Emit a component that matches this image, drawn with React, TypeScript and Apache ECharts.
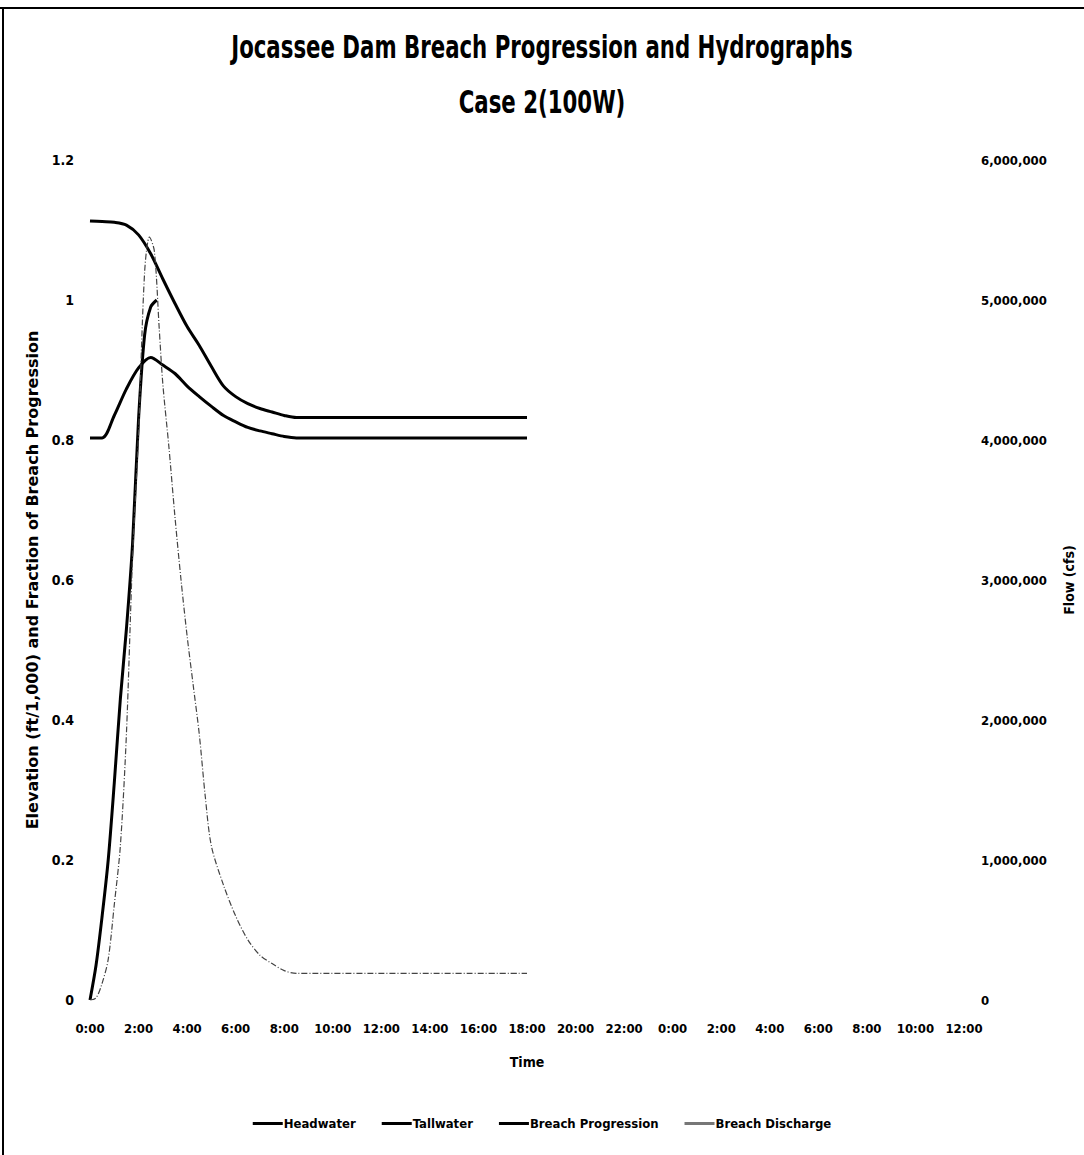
import React, { useEffect, useRef } from "react";
import * as echarts from "echarts";

const titleText = "Jocassee Dam Breach Progression and Hydrographs";
const subTitleText = "Case 2(100W)";
const seriesNames = ["Headwater", "Tallwater", "Breach Progression", "Breach Discharge"];

// time in hours since 0:00
const hwT = [0, 0.5, 1, 1.5, 2, 2.5, 3, 3.5, 4, 4.5, 5, 5.5, 6, 6.5, 7, 7.5, 8, 8.5, 18];
const hwV = [1.113, 1.112, 1.111, 1.107, 1.093, 1.066, 1.03, 0.995, 0.962, 0.935, 0.905, 0.877, 0.862, 0.852, 0.845, 0.84, 0.835, 0.832, 0.832];

const twT = [0, 0.5, 1, 1.5, 2, 2.5, 3, 3.5, 4, 4.5, 5, 5.5, 6, 6.5, 7, 7.5, 8, 8.5, 18];
const twV = [0.803, 0.803, 0.835, 0.873, 0.903, 0.918, 0.907, 0.895, 0.877, 0.862, 0.848, 0.835, 0.826, 0.818, 0.813, 0.809, 0.805, 0.803, 0.803];

const bpT = [0, 0.25, 0.5, 0.75, 1, 1.25, 1.5, 1.75, 2, 2.25, 2.5, 2.75];
const bpV = [0, 0.05, 0.12, 0.2, 0.31, 0.43, 0.53, 0.65, 0.83, 0.95, 0.99, 1.0];

const bdT = [0, 0.25, 0.5, 0.75, 1, 1.25, 1.5, 1.75, 2, 2.25, 2.45, 2.65, 2.85, 3, 3.25, 3.5, 3.75, 4, 4.25, 4.5, 4.75, 5, 5.5, 6, 6.5, 7, 7.5, 8, 8.5, 18];
const bdV = [0, 15000, 120000, 290000, 680000, 1100000, 1900000, 3150000, 4050000, 5200000, 5450000, 5350000, 4800000, 4400000, 3950000, 3450000, 3000000, 2600000, 2250000, 1900000, 1450000, 1100000, 820000, 600000, 430000, 320000, 260000, 210000, 190000, 190000];

const FONT = "'DejaVu Sans Condensed', 'Roboto', sans-serif";
const WIDE = "'DejaVu Sans', 'Verdana', sans-serif";

const pair = (t: number[], v: number[]) => t.map((x, i) => [x, v[i]]);

export default function App() {
  const ref = useRef<HTMLDivElement>(null);
  useEffect(() => {
    if (!ref.current) return;
    const chart = echarts.init(ref.current, undefined, { renderer: "svg" });
    const thick = { color: "#000", width: 3 };
    const titleStyle = { fill: "#000", fontFamily: FONT, fontWeight: "bold", fontSize: 32, align: "center", verticalAlign: "middle" };
    chart.setOption({
      animation: false,
      backgroundColor: "#fff",
      graphic: [
        { type: "line", shape: { x1: 3, y1: 8, x2: 3, y2: 1155 }, style: { stroke: "#000", lineWidth: 2 } },
        { type: "line", shape: { x1: 0, y1: 8, x2: 1084, y2: 8 }, style: { stroke: "#000", lineWidth: 2 } },
        { type: "text", x: 542, y: 47, scaleX: 0.74, style: { ...titleStyle, text: titleText } },
        { type: "text", x: 542, y: 102, scaleX: 0.74, style: { ...titleStyle, text: subTitleText } },
      ],
      grid: { left: 90, right: 116, top: 160, bottom: 155 },
      legend: {
        bottom: 20,
        left: "center",
        itemWidth: 30,
        itemHeight: 3,
        itemGap: 26,
        icon: "rect",
        data: [
          { name: seriesNames[0] },
          { name: seriesNames[1] },
          { name: seriesNames[2] },
          { name: seriesNames[3], itemStyle: { color: "#777" } },
        ],
        textStyle: { fontFamily: FONT, fontSize: 13, fontWeight: "bold", color: "#000", padding: [0, 0, 0, -4] },
      },
      xAxis: {
        type: "value",
        min: 0,
        max: 36,
        interval: 2,
        name: "Time",
        nameLocation: "middle",
        nameGap: 55,
        nameTextStyle: { fontFamily: FONT, fontWeight: "bold", fontSize: 14, color: "#000" },
        axisLine: { show: false },
        axisTick: { show: false },
        splitLine: { show: false },
        axisLabel: {
          margin: 22,
          fontFamily: FONT,
          fontWeight: "bold",
          fontSize: 13,
          color: "#000",
          formatter: (v: number) => `${v % 24}:00`,
        },
      },
      yAxis: [
        {
          type: "value",
          min: 0,
          max: 1.2,
          interval: 0.2,
          name: "Elevation (ft/1,000) and Fraction of Breach Progression",
          nameLocation: "middle",
          nameGap: 48,
          nameTextStyle: { fontFamily: WIDE, fontWeight: "bold", fontSize: 16, color: "#000" },
          axisLine: { show: false },
          axisTick: { show: false },
          splitLine: { show: false },
          axisLabel: {
            margin: 16,
            fontFamily: FONT,
            fontWeight: "bold",
            fontSize: 14,
            color: "#000",
            formatter: (v: number) => String(Math.round(v * 10) / 10),
          },
        },
        {
          type: "value",
          min: 0,
          max: 6000000,
          interval: 1000000,
          name: "Flow (cfs)",
          nameLocation: "middle",
          nameGap: 98,
          nameTextStyle: { fontFamily: FONT, fontWeight: "bold", fontSize: 14, color: "#000" },
          axisLine: { show: false },
          axisTick: { show: false },
          splitLine: { show: false },
          axisLabel: {
            margin: 17,
            fontFamily: FONT,
            fontWeight: "bold",
            fontSize: 13,
            color: "#000",
            formatter: (v: number) => v.toLocaleString("en-US"),
          },
        },
      ],
      series: [
        { name: seriesNames[0], type: "line", yAxisIndex: 0, symbol: "none", smooth: 0.3, data: pair(hwT, hwV), lineStyle: thick, itemStyle: { color: "#000" } },
        { name: seriesNames[1], type: "line", yAxisIndex: 0, symbol: "none", smooth: 0.3, data: pair(twT, twV), lineStyle: thick, itemStyle: { color: "#000" } },
        { name: seriesNames[2], type: "line", yAxisIndex: 0, symbol: "none", smooth: 0.3, data: pair(bpT, bpV), lineStyle: thick, itemStyle: { color: "#000" } },
        {
          name: seriesNames[3],
          type: "line",
          yAxisIndex: 1,
          symbol: "none",
          smooth: 0.3,
          data: pair(bdT, bdV),
          lineStyle: { color: "#444", width: 1.2, type: [6, 2, 1, 2] },
          itemStyle: { color: "#444" },
        },
      ],
    });
    return () => chart.dispose();
  }, []);
  return (
    <div
      ref={ref}
      style={{ position: "absolute", left: 0, top: 0, width: 1084, height: 1155, background: "#fff" }}
    />
  );
}
